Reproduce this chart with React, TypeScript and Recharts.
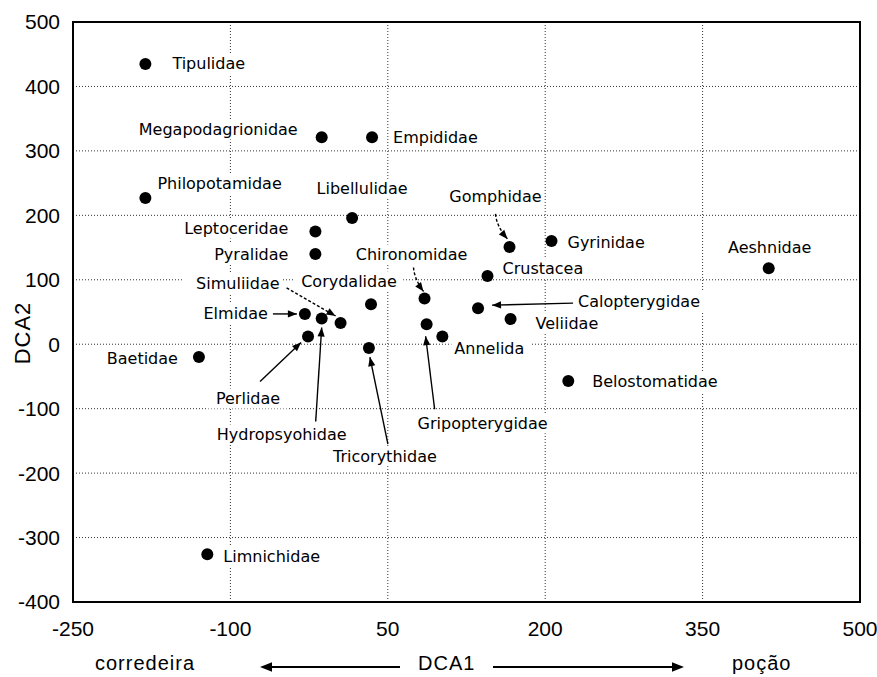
import React from "react";
import {
  ScatterChart,
  Scatter,
  XAxis,
  YAxis,
  CartesianGrid,
  ReferenceArea,
} from "recharts";

// DCA scores
const families = [
  "Tipulidae", "Megapodagrionidae", "Empididae", "Philopotamidae", "Libellulidae",
  "Leptoceridae", "Pyralidae", "Gomphidae", "Gyrinidae", "Crustacea",
  "Aeshnidae", "Chironomidae", "Corydalidae", "Simuliidae", "Elmidae",
  "Hydropsyohidae", "Perlidae", "Baetidae", "Tricorythidae", "Gripopterygidae",
  "Annelida", "Calopterygidae", "Veliidae", "Belostomatidae", "Limnichidae",
];
const dca1 = [-181, -13, 35, -181, 16, -19, -19, 166, 206, 145, 413, 85, 34, 5, -29, -13, -26, -130, 32, 87, 102, 136, 167, 222, -122];
const dca2 = [435, 321, 321, 227, 196, 175, 140, 151, 160, 106, 118, 71, 62, 33, 47, 40, 12, -20, -6, 31, 12, 56, 39, -57, -326];

const xTicks = [-250, -100, 50, 200, 350, 500];
const yTicks = [-400, -300, -200, -100, 0, 100, 200, 300, 400, 500];

const points = families.map((name, i) => ({ name, x: dca1[i], y: dca2[i] }));

// where each label sits relative to its dot (pixels), plus leader arrows
type Lay = { dx: number; dy: number; a: "start" | "middle" | "end"; arrow?: number[]; dash?: boolean; bend?: number };
const labelLayout: { [k: string]: Lay } = {
  Tipulidae: { dx: 27, dy: 0, a: "start" },
  Megapodagrionidae: { dx: -24, dy: -8, a: "end" },
  Empididae: { dx: 21, dy: 0, a: "start" },
  Philopotamidae: { dx: 12, dy: -14, a: "start" },
  Libellulidae: { dx: 10, dy: -29, a: "middle" },
  Leptoceridae: { dx: -27, dy: -3, a: "end" },
  Pyralidae: { dx: -27, dy: 0, a: "end" },
  Gomphidae: { dx: -14, dy: -50, a: "middle", arrow: [-14, -33, -2, -8], dash: true, bend: -5 },
  Gyrinidae: { dx: 16, dy: 1, a: "start" },
  Crustacea: { dx: 15, dy: -7, a: "start" },
  Aeshnidae: { dx: 1, dy: -21, a: "middle" },
  Chironomidae: { dx: -13, dy: -44, a: "middle", arrow: [-11, -31, -1, -7], dash: true, bend: -4 },
  Corydalidae: { dx: -22, dy: -23, a: "middle" },
  Simuliidae: { dx: -61, dy: -39, a: "end", arrow: [-54, -35, -5, -7], dash: true },
  Elmidae: { dx: -37, dy: 0, a: "end", arrow: [-32, 0, -8, 0] },
  Hydropsyohidae: { dx: -40, dy: 116, a: "middle", arrow: [-6, 103, 0, 9] },
  Perlidae: { dx: -60, dy: 62, a: "middle", arrow: [-48, 45, -7, 6] },
  Baetidae: { dx: -21, dy: 1, a: "end" },
  Tricorythidae: { dx: 16, dy: 108, a: "middle", arrow: [19, 96, 1, 9] },
  Gripopterygidae: { dx: 56, dy: 99, a: "middle", arrow: [8, 85, -1, 12] },
  Annelida: { dx: 12, dy: 12, a: "start" },
  Calopterygidae: { dx: 100, dy: -7, a: "start", arrow: [95, -5, 14, -3] },
  Veliidae: { dx: 25, dy: 4, a: "start" },
  Belostomatidae: { dx: 24, dy: 1, a: "start" },
  Limnichidae: { dx: 16, dy: 2, a: "start" },
};

const LABEL_FONT = "'DejaVu Sans', sans-serif";
const TICK_FONT = "'Liberation Sans', Arial, sans-serif";

function textBox(cx: number, cy: number, l: Lay, name: string) {
  const w = name.length * 9.3;
  const tx = cx + l.dx;
  let left = tx;
  if (l.a === "end") left = tx - w;
  if (l.a === "middle") left = tx - w / 2;
  return { tx, ty: cy + l.dy, left, w };
}

function head(px: number, py: number, x2: number, y2: number, key: string, size = 9) {
  const ang = Math.atan2(y2 - py, x2 - px);
  const hw = size * 0.4;
  const bx = x2 - size * Math.cos(ang);
  const by = y2 - size * Math.sin(ang);
  const nx = -Math.sin(ang) * hw;
  const ny = Math.cos(ang) * hw;
  return <polygon key={key} points={`${x2},${y2} ${bx + nx},${by + ny} ${bx - nx},${by - ny}`} fill="#000" />;
}

const LabelBg = (props: any) => {
  const { cx, cy, payload } = props;
  const l = labelLayout[payload.name];
  if (!l) return <g />;
  const b = textBox(cx, cy, l, payload.name);
  return <rect x={b.left - 3} y={b.ty - 10} width={b.w + 6} height={20} fill="#fff" />;
};

const LabelText = (props: any) => {
  const { cx, cy, payload } = props;
  const l = labelLayout[payload.name];
  if (!l) return <g />;
  const b = textBox(cx, cy, l, payload.name);
  let arrow = null;
  if (l.arrow) {
    const [ax1, ay1, ax2, ay2] = l.arrow;
    const x1 = cx + ax1, y1 = cy + ay1, x2 = cx + ax2, y2 = cy + ay2;
    const bend = l.bend || 0;
    const mx = (x1 + x2) / 2 + bend;
    const my = (y1 + y2) / 2;
    arrow = (
      <g>
        <path
          d={`M${x1},${y1} Q${mx},${my} ${x2},${y2}`}
          fill="none"
          stroke="#000"
          strokeWidth={1.4}
          strokeDasharray={l.dash ? "3 2" : undefined}
        />
        {head(mx, my, x2, y2, "h")}
      </g>
    );
  }
  return (
    <g>
      {arrow}
      <text
        x={b.tx}
        y={b.ty}
        textAnchor={l.a}
        dominantBaseline="central"
        fontFamily={LABEL_FONT}
        fontSize={16}
        fill="#000"
      >
        {payload.name}
      </text>
    </g>
  );
};

const Dot = (props: any) => <circle cx={props.cx} cy={props.cy} r={6} fill="#000" />;

const BottomTitle = () => {
  const base = 670;
  const ay = 667;
  const st = { fontFamily: TICK_FONT, fontSize: 20, fill: "#000", letterSpacing: 1 };
  return (
    <g>
      <text x={95} y={base} {...st}>corredeira</text>
      <line x1={400} y1={ay} x2={270} y2={ay} stroke="#000" strokeWidth={2} />
      {head(400, ay, 260, ay, "l", 12)}
      <text x={418} y={base} {...st}>DCA1</text>
      <line x1={493} y1={ay} x2={674} y2={ay} stroke="#000" strokeWidth={2} />
      {head(493, ay, 684, ay, "r", 12)}
      <text x={732} y={base} {...st}>poção</text>
    </g>
  );
};

const LeftTitle = () => (
  <text
    x={22}
    y={333}
    transform="rotate(-90 22 333)"
    textAnchor="middle"
    dominantBaseline="central"
    fontFamily={TICK_FONT}
    fontSize={22}
    letterSpacing={1}
    fill="#000"
  >
    DCA2
  </text>
);

export default function App() {
  return (
    <div style={{ position: "absolute", left: 0, top: 0, background: "#fff" }}>
      <ScatterChart width={877} height={677} margin={{ top: 22, right: 17, bottom: 0, left: 13 }}>
        <CartesianGrid stroke="#333" strokeDasharray="1 2" />
        <XAxis
          type="number"
          dataKey="x"
          domain={[-250, 500]}
          ticks={xTicks}
          height={75}
          axisLine={false}
          tickLine={false}
          tickMargin={13}
          tick={{ fontFamily: TICK_FONT, fontSize: 21, fill: "#000" }}
          label={{ content: BottomTitle }}
        />
        <YAxis
          type="number"
          dataKey="y"
          domain={[-400, 500]}
          ticks={yTicks}
          width={60}
          axisLine={false}
          tickLine={false}
          tickMargin={7}
          tick={{ fontFamily: TICK_FONT, fontSize: 21, fill: "#000" }}
          label={{ content: LeftTitle }}
        />
        <ReferenceArea x1={-250} x2={500} y1={-400} y2={500} fill="none" stroke="#000" strokeWidth={2} />
        <Scatter data={points} shape={LabelBg} isAnimationActive={false} />
        <Scatter data={points} shape={LabelText} isAnimationActive={false} />
        <Scatter data={points} shape={Dot} isAnimationActive={false} />
      </ScatterChart>
    </div>
  );
}
